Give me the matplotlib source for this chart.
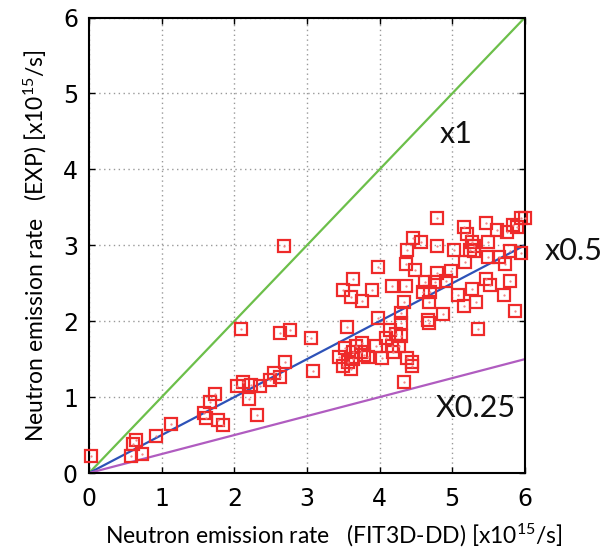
import matplotlib
matplotlib.use("Agg")
import matplotlib.pyplot as plt
import numpy as np

# FIT3D-DD (x) vs EXP (y), units 1e15 n/s
fit3d = [0.03, 0.61, 0.64, 0.58, 0.73, 0.92, 1.13,
         1.58, 1.61, 1.66, 1.73, 1.77, 1.85,
         2.09, 2.04, 2.12, 2.23, 2.20, 2.31, 2.36,
         2.49, 2.55, 2.63, 2.70, 2.68, 2.63, 2.77,
         3.06, 3.09,
         3.44, 3.49, 3.52, 3.57, 3.60, 3.55, 3.63, 3.68, 3.76, 3.79, 3.84, 3.74, 3.63,
         3.49, 3.60, 3.63, 3.76, 3.90, 3.98,
         3.98, 3.95, 4.03, 4.09, 4.14, 4.17, 4.22, 4.27, 4.19,
         4.17, 4.36, 4.33, 4.30, 4.30, 4.30, 4.33,
         4.38, 4.44, 4.44,
         4.36, 4.38, 4.46, 4.57, 4.49,
         4.60, 4.63, 4.66, 4.68, 4.68, 4.70, 4.76, 4.79,
         4.79, 4.79, 4.87, 4.92, 4.98,
         5.03, 5.08, 5.16, 5.18,
         5.16, 5.21, 5.27, 5.30, 5.25, 5.30, 5.27, 5.33, 5.35,
         5.46, 5.49, 5.49, 5.46, 5.52, 5.62,
         5.65, 5.73, 5.71, 5.79, 5.76, 5.84, 5.89, 5.95, 6.00, 5.95, 5.87, 5.79]
exp = [0.23, 0.38, 0.43, 0.23, 0.25, 0.49, 0.65,
       0.79, 0.72, 0.93, 1.04, 0.70, 0.63,
       1.90, 1.14, 1.20, 1.16, 0.97, 0.76, 1.14,
       1.23, 1.32, 1.27, 1.46, 2.99, 1.85, 1.88,
       1.78, 1.34,
       1.53, 1.41, 1.65, 1.46, 1.37, 1.92, 1.60, 1.67, 1.71, 1.55, 1.53, 1.60, 1.50,
       2.41, 2.32, 2.55, 2.27, 2.41, 2.71,
       2.04, 1.67, 1.51, 1.78, 1.88, 1.67, 1.83, 1.67, 1.60,
       2.46, 2.46, 2.25, 2.11, 1.81, 1.97, 1.20,
       1.51, 1.46, 1.41,
       2.76, 2.94, 3.10, 3.04, 2.67,
       2.38, 2.52, 2.02, 1.97, 2.25, 2.38, 2.52, 2.64,
       3.36, 2.99, 2.09, 2.53, 2.66,
       2.94, 2.34, 2.20, 2.78,
       3.24, 3.15, 3.04, 2.92, 2.94, 2.99, 2.43, 2.25, 1.90,
       3.29, 3.04, 2.85, 2.55, 2.48, 3.20,
       2.85, 2.76, 2.34, 2.53, 3.17, 3.27, 3.24, 3.36, 3.36, 2.90, 2.13, 2.92]

ratios = [1.0, 0.5, 0.25]
ratio_labels = ["x1", "x0.5", "X0.25"]
ratio_colors = ["#6cbf4a", "#2d52b8", "#b05cc0"]
label_pos = [(5.06, 4.47), (6.67, 2.92), (5.33, 0.86)]

ticks = [0, 1, 2, 3, 4, 5, 6]

fig = plt.figure(figsize=(6.11, 5.49), dpi=100)
ax = fig.add_axes([0.1457, 0.1384, 0.859 - 0.1457, 0.968 - 0.1384])

xs = np.array([0, 6])
for r, c in zip(ratios, ratio_colors):
    ax.plot(xs, r * xs, color=c, lw=1.6, zorder=2)

ax.plot(fit3d, exp, linestyle="none", marker="s", markersize=9,
        markerfacecolor="none", markeredgecolor="#ee2a2a", markeredgewidth=1.6,
        zorder=3, clip_on=False)
ax.plot(fit3d, exp, linestyle="none", marker=".", markersize=1.2,
        color="#f08080", zorder=3, clip_on=False)

for (tx, ty), lab in zip(label_pos, ratio_labels):
    ax.text(tx, ty, lab, fontsize=22, family=["Lato", "DejaVu Sans"],
            ha="center", va="center", clip_on=False, color="#111111")

ax.set_xlim(0, 6)
ax.set_ylim(0, 6)
ax.set_xticks(ticks)
ax.set_yticks(ticks)
tick_font = ["Liberation Sans Narrow", "DejaVu Sans"]
ax.set_xticklabels([str(t) for t in ticks], family=tick_font, fontsize=17)
ax.set_yticklabels([str(t) for t in ticks], family=tick_font, fontsize=17)
ax.tick_params(axis="x", direction="in", length=4, width=1, top=True, pad=10)
ax.tick_params(axis="y", direction="in", length=4, width=1, right=True, pad=8)
ax.grid(True, linestyle=(0, (1, 2.5)), color="#999999", lw=1)
for s in ax.spines.values():
    s.set_linewidth(1.5)

ax.set_xlabel(r"Neutron emission rate   (FIT3D-DD) [x10$\mathregular{^{15}}$/s]",
              fontsize=16.5, family=["Lato", "DejaVu Sans"], labelpad=5)
ax.xaxis.set_label_coords(0.562, -0.138)
ax.xaxis.label.set_va("center")
ax.set_ylabel(r"Neutron emission rate   (EXP) [x10$\mathregular{^{15}}$/s]",
              fontsize=16.5, family=["Lato", "DejaVu Sans"], labelpad=10)

fig.savefig("out.png", dpi=100)
